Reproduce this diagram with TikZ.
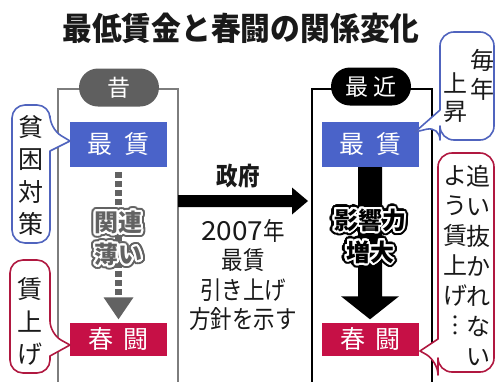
\documentclass[tikz,border=0pt]{standalone}
\usepackage{fontspec}
\setmainfont{Noto Sans CJK JP}
\newfontfamily\jptitle[FakeStretch=0.93]{Noto Sans CJK JP}
\newfontfamily\jpcond[FakeStretch=0.86]{Noto Sans CJK JP}
\usetikzlibrary{calc,shapes.misc}
\definecolor{mblue}{RGB}{74,99,201}
\definecolor{mred}{RGB}{198,16,70}
\definecolor{pillgray}{RGB}{95,95,95}
\definecolor{halogray}{RGB}{98,98,98}
\definecolor{framegray}{RGB}{125,125,125}
\definecolor{bblue}{RGB}{80,100,190}
\definecolor{bred}{RGB}{176,24,64}
\definecolor{ink}{RGB}{25,25,25}
\newcommand{\halotext}[5]{%
  \foreach \a in {0,12,...,348}{\node[halofont,text=#4,shift={(\a:4.3)}] at (#2,#3) {#5};}
  \foreach \a in {0,15,...,345}{\node[halofont,text=white,shift={(\a:2.0)}] at (#2,#3) {#5};}
  \node[halofont,text=#4] (#1) at (#2,#3) {#5};
}
\begin{document}
\begin{tikzpicture}[x=1pt,y=-1pt,
  halofont/.style={font=\fontsize{24}{32}\selectfont\bfseries, align=center, inner sep=0pt},
  boxnode/.style={inner sep=0pt, minimum width=97pt, text=white, font=\fontsize{25}{25}\selectfont},
  pill/.style={rounded rectangle, inner sep=0pt, minimum width=80pt, minimum height=38pt, text=white, font=\fontsize{23}{23}\selectfont},
  bubtext/.style={align=center, inner sep=0pt, text=ink},
  bubline/.style={line width=1.6pt, fill=white, line join=round}
]
\useasboundingbox (0,0) rectangle (496,381);
\fill[white] (0,0) rectangle (496,381);

% title
\node[font=\jptitle\fontsize{32}{32}\selectfont\bfseries, text=ink, inner sep=0pt] (title) at (241,28) {最低賃金と春闘の関係変化};

% frames
\draw[framegray, line width=1.5pt] (58,390) -- (58,89) -- (178,89) -- (178,390);
\draw[black, line width=1.5pt] (312,390) -- (312,89) -- (432,89) -- (432,390);

% pills
\node[pill, fill=pillgray] (old) at (119,87.5) {昔};
\node[pill, fill=black] (new) at (371,86.5) {最\hspace{6pt}近};

% boxes
\node[boxnode, fill=mblue, minimum height=45pt] (lb) at (118.5,144.5) {最\hspace{12pt}賃};
\node[boxnode, fill=mred, minimum height=33pt] (lr) at (118.5,339) {春\hspace{10pt}闘};
\node[boxnode, fill=mblue, minimum height=45pt] (rb) at (370,144.5) {最\hspace{12pt}賃};
\node[boxnode, fill=mred, minimum height=33pt] (rr) at (370,339) {春\hspace{10pt}闘};

% left dashed arrow
\coordinate (ls) at ($(lb.south)+(0,5)$);
\coordinate (lt) at ($(lr.north)+(0,-3)$);
\draw[halogray, line width=7pt, dash pattern=on 6pt off 3pt] (ls) -- ($(lt)+(0,-22)$);
\fill[halogray] ($(lt)+(-15,-22)$) -- ($(lt)+(15,-22)$) -- (lt) -- cycle;

% right black arrow
\coordinate (rs) at (rb.south);
\coordinate (rt) at ($(rr.north)+(0,-3)$);
\fill[black] ($(rs)+(-12,0)$) -- ($(rt)+(-12,-23)$) -- ($(rt)+(-29,-23)$) -- (rt) -- ($(rt)+(29,-23)$) -- ($(rt)+(12,-23)$) -- ($(rs)+(12,0)$) -- cycle;

% middle arrow
\coordinate (ma) at (178,201);
\coordinate (mb) at (308,201);
\fill[black] ($(ma)+(0,-6)$) -- ($(mb)+(-16,-6)$) -- ($(mb)+(-16,-13.5)$) -- (mb) -- ($(mb)+(-16,13.5)$) -- ($(mb)+(-16,6)$) -- ($(ma)+(0,6)$) -- cycle;

% halo texts
\halotext{lk}{118.5}{238.5}{halogray}{関連\\薄い}
\halotext{rk}{370}{236}{black}{影響力\\増大}

% middle texts
\node[font=\jpcond\fontsize{25}{25}\selectfont\bfseries, text=ink, inner sep=0pt] (gov) at (238,176) {政府};
\node[font=\jpcond\fontsize{25}{29.5}\selectfont, text=ink, align=center, inner sep=0pt] (pol) at (243,275) {\scalebox{1.3}[1.05]{2007}年\\最賃\\引き上げ\\方針を示す};

% left blue bubble
\draw[bblue, bubline] (12,170) [rounded corners=13pt] -- (12,105) -- (50,105) -- (50,129) [sharp corners] -- (70,141) -- (50,151) [rounded corners=13pt] -- (50,243) -- (12,243) -- cycle;
\node[bubtext, font=\fontsize{25}{32.3}\selectfont] (t1) at (31,175.5) {貧\\困\\対\\策};

% left red bubble
\draw[bred, bubline] (10,300) [rounded corners=13pt] -- (10,260) -- (50,260) -- (50,334) [sharp corners] -- (70,345) -- (50,356) [rounded corners=13pt] -- (50,373) -- (10,373) -- cycle;
\node[bubtext, font=\fontsize{25}{32.5}\selectfont] (t2) at (30,321.5) {賃\\上\\げ};

% right blue bubble
\draw[bblue, bubline] (494,80) [rounded corners=14pt] -- (494,140) -- (440,140) -- (440,126) [sharp corners] -- (415,132) -- (440,110) [rounded corners=14pt] -- (440,32) -- (494,32) -- cycle;
\node[bubtext, font=\fontsize{24}{29}\selectfont] (t3) at (482,74.5) {毎\\年};
\node[bubtext, font=\fontsize{24}{28}\selectfont] (t4) at (455,98) {上\\昇};

% right red bubble
\draw[bred, bubline] (494,250) [rounded corners=14pt] -- (494,372) -- (438,372) -- (438,361) [sharp corners] -- (420,351) -- (438,339) [rounded corners=14pt] -- (438,153) -- (494,153) -- cycle;
\node[bubtext, font=\fontsize{24}{30}\selectfont] (t5) at (478,265) {追\\い\\抜\\か\\れ\\な\\い};
\node[bubtext, font=\fontsize{24}{30}\selectfont] (t6) at (455,250) {よ\\う\\賃\\上\\げ\\︙};
\end{tikzpicture}
\end{document}
